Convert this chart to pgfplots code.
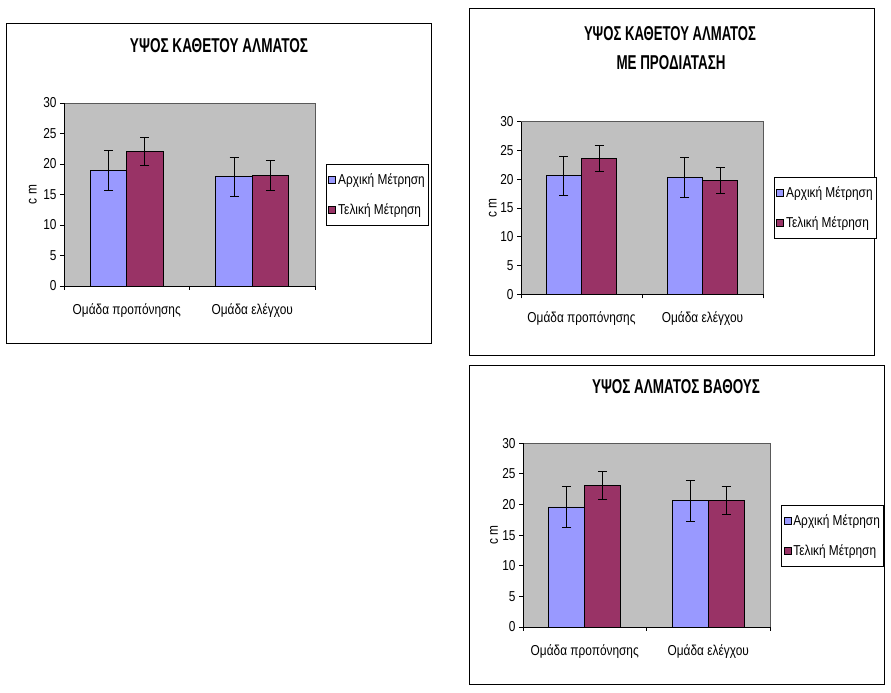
\documentclass[border=0pt]{standalone}
\usepackage{pgfplots}
\pgfplotsset{compat=1.18}
\usepackage{pgfplotstable}
\usepackage{graphicx}
\usepackage{fontspec}
\setmainfont{Liberation Sans}

\definecolor{arxiki}{HTML}{9999FF}
\definecolor{teliki}{HTML}{993366}
\definecolor{plotbg}{HTML}{C0C0C0}

% narrow, tall look of the original chart text
\newcommand{\tall}[1]{\scalebox{0.95}[1.15]{#1}}

% x = group (0 training, 1 control), a/t = initial/final, *err = error bar
\pgfplotstableread{
x a aerr t terr
0 18.9 3.3 22.0 2.3
1 17.9 3.2 18.1 2.4
}\kathetou
\pgfplotstableread{
x a aerr t terr
0 20.6 3.4 23.6 2.2
1 20.3 3.5 19.8 2.3
}\prodiatasi
\pgfplotstableread{
x a aerr t terr
0 19.6 3.4 23.1 2.3
1 20.6 3.3 20.6 2.3
}\vathous

\pgfplotsset{
  excel/.style={
    scale only axis,
    ymin=0, ymax=30, ytick={0,5,...,30},
    xmin=-0.5, xmax=1.5,
    axis x line*=bottom, axis y line*=left,
    axis line style={black, line width=0.9pt, -},
    axis background/.style={fill=plotbg, draw=gray!70!black},
    tick align=outside,
    major tick length=4pt,
    tick style={black, line width=0.9pt},
    xtick={-0.5,0.5,1.5}, xticklabels={},
    extra x ticks={0,1},
    extra x tick labels={\tall{Ομάδα προπόνησης}, \tall{Ομάδα ελέγχου}},
    extra x tick style={major tick length=0pt, tick label style={yshift=-14pt}},
    every tick label/.append style={font=\fontsize{12.5}{14}\selectfont},
    yticklabel={\tall{\pgfmathprintnumber{\tick}}},
    /pgf/number format/assume math mode=true,
    ybar, bar width=0.29,
    ylabel={\tall{c m}},
    ylabel style={font=\fontsize{12.5}{14}\selectfont, anchor=center},
    legend cell align=left,
    legend image code/.code={\draw[##1, line width=0.8pt] (0pt,-3.5pt) rectangle (7pt,3.5pt);},
    legend style={anchor=north west, draw=black, line width=0.8pt,
      font=\fontsize{12.5}{14}\selectfont, row sep=14pt, inner xsep=2pt, inner ysep=7pt},
  },
  errs/.style={error bars/.cd, y dir=both, y explicit,
    error bar style={line width=1pt, black},
    error mark options={rotate=90, mark size=4.5pt, line width=1pt, black}},
}

\begin{document}
\begin{tikzpicture}
\fill[white] (0pt,0pt) rectangle (891pt,693pt);
\useasboundingbox (0pt,0pt) rectangle (891pt,693pt);
\draw[line width=0.8pt] (6pt,350pt) rectangle (431pt,670pt);
\draw[line width=0.8pt] (469pt,338pt) rectangle (874pt,685pt);
\draw[line width=0.8pt] (469pt,9pt) rectangle (884pt,328pt);

\node at (219pt,647pt) {\resizebox{178pt}{14pt}{\bfseries ΥΨΟΣ ΚΑΘΕΤΟΥ ΑΛΜΑΤΟΣ}};
\node at (670pt,659pt) {\resizebox{172pt}{14pt}{\bfseries ΥΨΟΣ ΚΑΘΕΤΟΥ ΑΛΜΑΤΟΣ}};
\node at (671pt,630pt) {\resizebox{109pt}{14pt}{\bfseries ΜΕ ΠΡΟΔΙΑΤΑΣΗ}};
\node at (676pt,306pt) {\resizebox{168pt}{14pt}{\bfseries ΥΨΟΣ ΑΛΜΑΤΟΣ ΒΑΘΟΥΣ}};

\begin{axis}[excel, at={(64pt,407pt)}, anchor=south west, width=251pt, height=183pt,
  ylabel style={at={(axis description cs:-0.124,0.5)}},
  legend style={at={(1.044,0.667)}}]
\addplot[fill=arxiki, draw=black, line width=0.9pt, bar shift=-0.145, errs]
  table[x=x, y=a, y error=aerr] {\kathetou};
\addplot[fill=teliki, draw=black, line width=0.9pt, bar shift=0.145, errs]
  table[x=x, y=t, y error=terr] {\kathetou};
\legend{\tall{Αρχική Μέτρηση}, \tall{Τελική Μέτρηση}}
\end{axis}

\begin{axis}[excel, at={(521pt,398.7pt)}, anchor=south west, width=242pt, height=172.6pt,
  ylabel style={at={(axis description cs:-0.116,0.5)}},
  legend style={at={(1.045,0.680)}}]
\addplot[fill=arxiki, draw=black, line width=0.9pt, bar shift=-0.145, errs]
  table[x=x, y=a, y error=aerr] {\prodiatasi};
\addplot[fill=teliki, draw=black, line width=0.9pt, bar shift=0.145, errs]
  table[x=x, y=t, y error=terr] {\prodiatasi};
\legend{\tall{Αρχική Μέτρηση}, \tall{Τελική Μέτρηση}}
\end{axis}

\begin{axis}[excel, at={(523pt,66pt)}, anchor=south west, width=247pt, height=183.7pt,
  ylabel style={at={(axis description cs:-0.117,0.5)}},
  legend style={at={(1.045,0.664)}}]
\addplot[fill=arxiki, draw=black, line width=0.9pt, bar shift=-0.145, errs]
  table[x=x, y=a, y error=aerr] {\vathous};
\addplot[fill=teliki, draw=black, line width=0.9pt, bar shift=0.145, errs]
  table[x=x, y=t, y error=terr] {\vathous};
\legend{\tall{Αρχική Μέτρηση}, \tall{Τελική Μέτρηση}}
\end{axis}
\end{tikzpicture}
\end{document}
